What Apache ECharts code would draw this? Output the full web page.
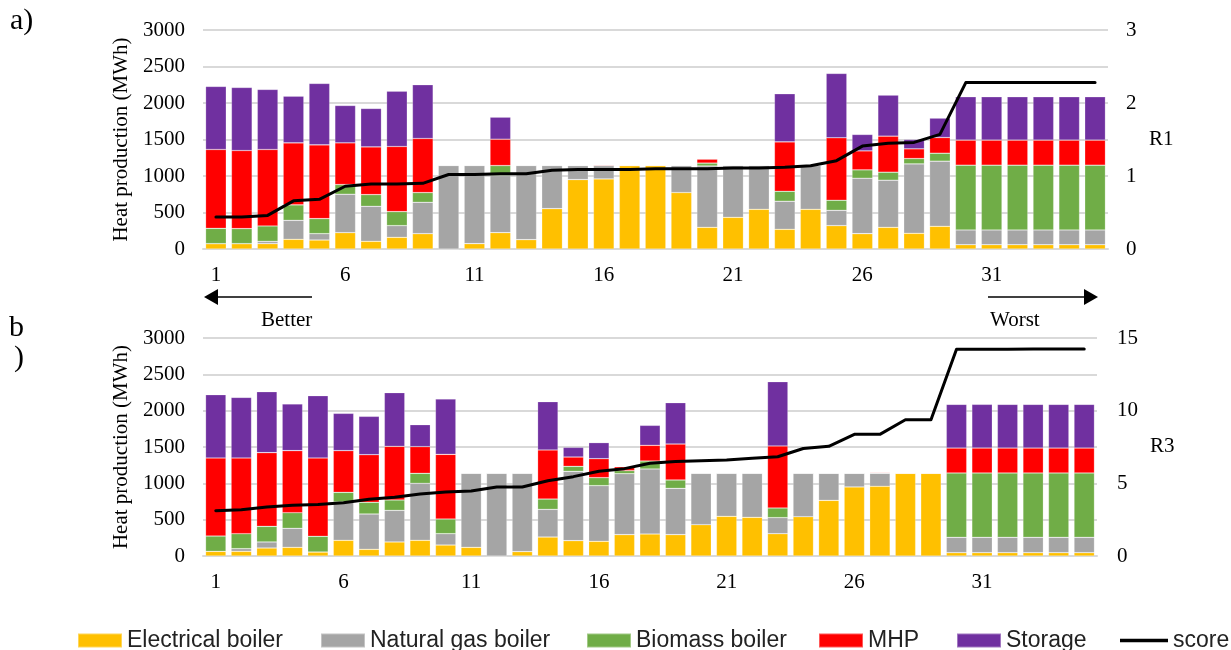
<!DOCTYPE html>
<html>
<head>
<meta charset="utf-8">
<script src="https://cdn.jsdelivr.net/npm/echarts@6/dist/echarts.min.js"></script>
<style>
  html, body { margin: 0; padding: 0; background: #fff; }
  #chart { width: 1231px; height: 650px; }
</style>
</head>
<body>
<div id="chart"></div>
<script>
// Scenario ranking 1..35
const categories = Array.from({ length: 35 }, (_, i) => String(i + 1));

// Panel a) – ranking by R1
const elecA = [73,73,73,133,123,224,105,160,210,0,73,224,128,553,951,960,1143,1143,773,297,434,544,270,544,320,210,297,215,311,59,59,59,59,59,59];
const gasA  = [0,0,32,260,87,526,480,160,430,1143,1070,782,1015,590,192,183,0,0,370,840,709,599,384,599,210,759,645,951,892,202,202,202,202,202,202];
const bioA  = [210,206,211,211,206,133,160,192,133,0,0,137,0,0,0,0,0,0,0,40,0,0,137,0,138,115,110,73,109,887,887,887,887,887,887];
const mhpA  = [1080,1070,1047,850,1011,571,654,892,741,0,0,361,0,0,0,10,0,0,0,55,0,0,677,0,855,260,494,133,215,343,343,343,343,343,343];
const stoA  = [864,864,823,640,841,512,526,759,736,0,0,302,0,0,0,0,0,0,0,0,0,0,658,0,882,225,562,128,266,594,594,594,594,594,594];
const scoreA = [0.44,0.44,0.46,0.66,0.68,0.86,0.89,0.89,0.90,1.02,1.02,1.03,1.03,1.08,1.09,1.09,1.09,1.10,1.10,1.10,1.11,1.11,1.12,1.14,1.21,1.41,1.45,1.46,1.57,2.28,2.28,2.28,2.28,2.28,2.28];

// Panel b) – ranking by R3
const elecB = [64,64,110,119,55,216,92,193,216,151,119,0,60,261,211,202,294,303,294,431,546,532,307,541,766,950,959,1138,1138,46,46,46,46,46,46];
const gasB  = [0,37,83,262,0,527,486,435,784,156,1019,1138,1078,381,954,766,839,894,637,707,592,606,221,597,372,188,179,0,0,211,211,211,211,211,211];
const bioB  = [211,206,215,215,216,133,161,143,138,202,0,0,0,142,69,110,41,110,115,0,0,0,133,0,0,0,0,0,0,885,885,885,885,885,885];
const mhpB  = [1074,1042,1014,854,1078,574,655,738,367,890,0,0,0,675,128,261,55,216,495,0,0,0,853,0,0,0,10,0,0,344,344,344,344,344,344];
const stoB  = [871,834,839,642,857,513,528,739,302,761,0,0,0,665,133,221,0,275,569,0,0,0,885,0,0,0,0,0,0,601,601,601,601,601,601];
const scoreB = [3.12,3.19,3.37,3.49,3.55,3.67,3.90,4.04,4.27,4.40,4.47,4.75,4.75,5.18,5.46,5.83,6.01,6.38,6.51,6.56,6.61,6.72,6.83,7.40,7.55,8.37,8.37,9.38,9.38,14.22,14.23,14.23,14.24,14.24,14.24];

const leftTicks = [0, 500, 1000, 1500, 2000, 2500, 3000];

const names = ['Electrical boiler', 'Natural gas boiler', 'Biomass boiler', 'MHP', 'Storage'];
const colors = ['#FFC000', '#A5A5A5', '#70AD47', '#FF0000', '#7030A0'];
const serif = '"Liberation Serif", "DejaVu Serif", serif';
const sans = '"Liberation Sans", Arial, sans-serif';
const axisFont = 21;

function barSeries(data, gi, stack) {
  return data.map((arr, k) => ({
    name: names[k],
    type: 'bar',
    stack: stack,
    xAxisIndex: gi,
    yAxisIndex: gi * 2,
    data: arr,
    barCategoryGap: '20%',
    itemStyle: { color: colors[k], borderColor: 'rgba(255,255,255,0.35)', borderWidth: 0.6 },
    emphasis: { disabled: true },
    z: 2
  }));
}

function lineSeries(data, gi) {
  return {
    name: 'score',
    type: 'line',
    xAxisIndex: gi,
    yAxisIndex: gi * 2 + 1,
    data: data,
    symbol: 'none',
    lineStyle: { color: '#000', width: 3, join: 'round', cap: 'round' },
    itemStyle: { color: '#000' },
    z: 5
  };
}

function xAxis(gi) {
  return {
    type: 'category',
    gridIndex: gi,
    data: categories,
    axisLine: { show: true, lineStyle: { color: '#D9D9D9', width: 2 } },
    axisTick: { show: false },
    axisLabel: { interval: 4, margin: 16, fontFamily: serif, fontSize: axisFont, color: '#000' }
  };
}

function leftAxis(gi) {
  return {
    type: 'value',
    gridIndex: gi,
    min: leftTicks[0],
    max: leftTicks[leftTicks.length - 1],
    interval: 500,
    name: 'Heat production (MWh)',
    nameLocation: 'middle',
    nameRotate: 90,
    nameGap: 67,
    nameTextStyle: { fontFamily: serif, fontSize: axisFont, color: '#000' },
    axisLine: { show: false },
    axisTick: { show: false },
    axisLabel: { margin: 18, fontFamily: serif, fontSize: axisFont, color: '#000', formatter: v => String(v) },
    splitLine: { lineStyle: { color: '#D9D9D9', width: 2 } }
  };
}

function rightAxis(gi, max, interval, margin) {
  return {
    type: 'value',
    gridIndex: gi,
    position: 'right',
    min: 0,
    max: max,
    interval: interval,
    axisLine: { show: false },
    axisTick: { show: false },
    axisLabel: { margin: margin, fontFamily: serif, fontSize: axisFont, color: '#000', formatter: v => String(v) },
    splitLine: { show: false }
  };
}

const legendSpots = [
  { name: 'Electrical boiler', left: 77 },
  { name: 'Natural gas boiler', left: 320 },
  { name: 'Biomass boiler', left: 586 },
  { name: 'MHP', left: 818 },
  { name: 'Storage', left: 956 },
  { name: 'score', left: 1120 }
];

const legends = legendSpots.map(s => ({
  data: [s.name === 'score'
    ? { name: 'score', icon: 'path://M0,0H48V3.5H0Z' }
    : { name: s.name, icon: 'rect' }],
  left: s.left,
  top: 629,
  padding: 0,
  itemWidth: s.name === 'score' ? 48 : 44,
  itemHeight: 14,
  itemGap: 0,
  symbolKeepAspect: true,
  selectedMode: false,
  textStyle: { fontFamily: sans, fontSize: 23, color: '#222' }
}));

function arrow(x1, x2, y) {
  const dir = x2 > x1 ? 1 : -1;
  const tipBase = x2 - dir * 14;
  return [
    { type: 'line', shape: { x1: x1, y1: y, x2: tipBase, y2: y }, style: { stroke: '#000', lineWidth: 1.5 } },
    { type: 'polygon', shape: { points: [[x2, y], [tipBase, y - 8], [tipBase, y + 8]] }, style: { fill: '#000' } }
  ];
}

const txt = (text, left, top, size) => ({
  type: 'text', left: left, top: top,
  style: { text: text, fontFamily: serif, fontSize: size, fill: '#000' }
});

const chart = echarts.init(document.getElementById('chart'), null, { renderer: 'canvas' });
chart.setOption({
  animation: false,
  backgroundColor: '#fff',
  grid: [
    { left: 203, top: 30, width: 905, height: 219 },
    { left: 203, top: 338, width: 894, height: 218 }
  ],
  xAxis: [xAxis(0), xAxis(1)],
  yAxis: [leftAxis(0), rightAxis(0, 3, 1, 18), leftAxis(1), rightAxis(1, 15, 5, 20)],
  legend: legends,
  series: [
    ...barSeries([elecA, gasA, bioA, mhpA, stoA], 0, 'a'),
    lineSeries(scoreA, 0),
    ...barSeries([elecB, gasB, bioB, mhpB, stoB], 1, 'b'),
    lineSeries(scoreB, 1)
  ],
  graphic: [
    txt('a)', 10, 6, 30),
    txt('b', 9, 313, 30),
    txt(')', 14, 343, 30),
    txt('R1', 1149, 129, 21),
    txt('R3', 1150, 436, 21),
    txt('Better', 261, 310, 21),
    txt('Worst', 990, 310, 21),
    ...arrow(312, 204, 297),
    ...arrow(988, 1098, 297)
  ]
});
</script>
</body>
</html>
